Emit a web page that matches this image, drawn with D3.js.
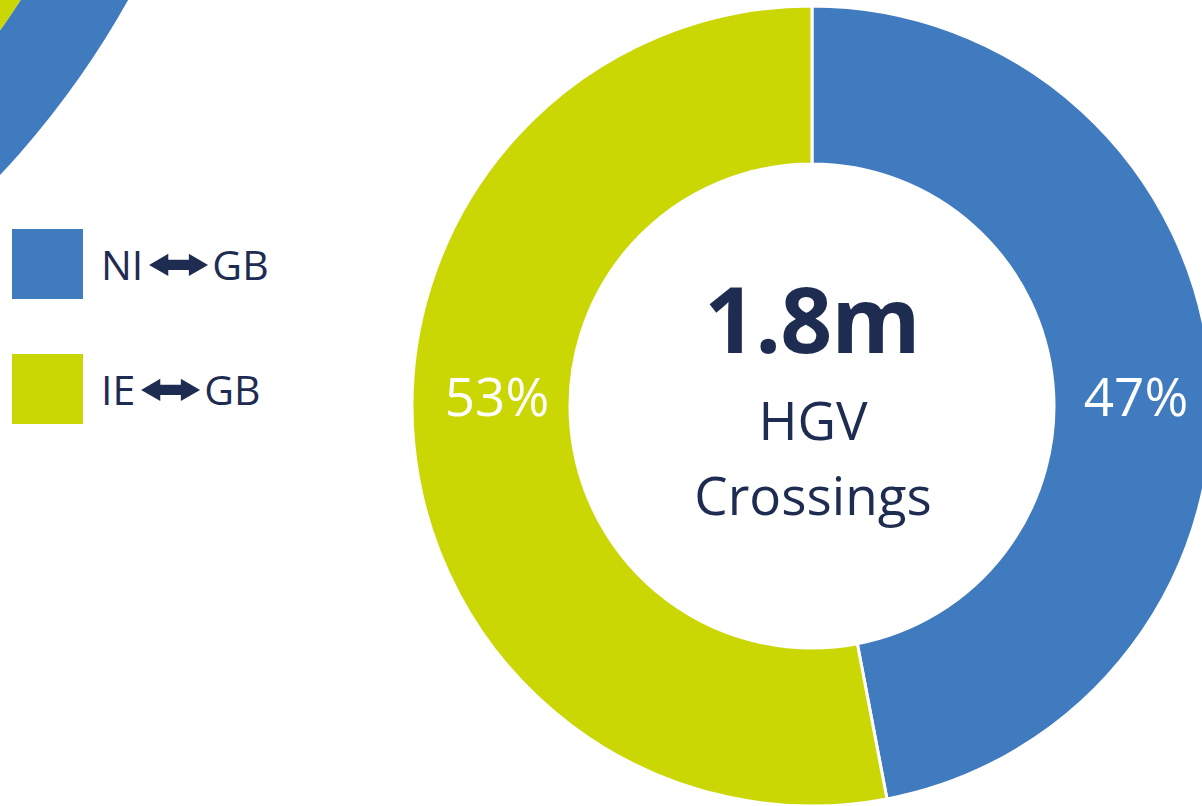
<!DOCTYPE html>
<html>
<head>
<meta charset="utf-8">
<script src="https://cdn.jsdelivr.net/npm/d3@7"></script>
<style>
  html, body { margin: 0; padding: 0; background: #ffffff; }
  svg { display: block; }
  text { font-family: "Open Sans", "Noto Sans", sans-serif; }
</style>
</head>
<body>
<svg id="chart" width="1202" height="806"></svg>
<script>
// ---- data ----
const categories = ["NI", "IE"];
const legendLeft = ["NI", "IE"];
const legendRight = ["GB", "GB"];
const shares = [47, 53];
const shareLabels = ["47%", "53%"];
const seriesColors = ["#417BBF", "#CBD605"];
const totalLabel = "1.8m";
const centerLines = ["HGV", "Crossings"];
// partial neighbouring ring visible in the top-left corner (outer ring, inner ring)
const cornerRingValues = [1, 1];
const cornerRingColors = ["#417BBF", "#CBD605"];

const svg = d3.select("#chart");
const navy = "#1F2C52";

// ---- corner fragment of a neighbouring donut ----
const cornerG = svg.append("g").attr("transform", "translate(-657,-440)");
const cornerRadii = [[808, 900], [560, 808]];
cornerRingValues.forEach((v, i) => {
  const a = d3.arc()
    .innerRadius(cornerRadii[i][0])
    .outerRadius(cornerRadii[i][1])
    .startAngle(100 * Math.PI / 180)
    .endAngle(150 * Math.PI / 180);
  cornerG.append("path").attr("d", a()).attr("fill", cornerRingColors[i]);
});

// ---- main donut ----
const cx = 812, cy = 406;
const outerR = 400, innerR = 242;
const g = svg.append("g").attr("transform", `translate(${cx},${cy})`);

const pie = d3.pie().sort(null).value(d => d)(shares);
const arc = d3.arc().innerRadius(innerR).outerRadius(outerR);

g.selectAll("path.slice")
  .data(pie)
  .join("path")
  .attr("class", "slice")
  .attr("d", arc)
  .attr("fill", (d, i) => seriesColors[i])
  .attr("stroke", "#ffffff")
  .attr("stroke-width", 3)
  .attr("stroke-linejoin", "miter");

// percentage labels placed on the horizontal through the ring middle
const midR = (innerR + outerR) / 2;
const labelX = d3.scaleOrdinal().domain(categories).range([midR + 3, -midR + 6]);
g.selectAll("text.pct")
  .data(pie)
  .join("text")
  .attr("class", "pct")
  .attr("x", (d, i) => labelX(categories[i]))
  .attr("y", 10)
  .attr("text-anchor", "middle")
  .attr("fill", "#ffffff")
  .attr("font-size", 53)
  .text((d, i) => shareLabels[i]);

// centre text
g.append("text")
  .attr("x", 0).attr("y", -53)
  .attr("text-anchor", "middle")
  .attr("fill", navy)
  .attr("font-size", 91)
  .attr("font-weight", 700)
  .attr("letter-spacing", -1)
  .text(totalLabel);

g.selectAll("text.sub")
  .data(centerLines)
  .join("text")
  .attr("class", "sub")
  .attr("x", 1)
  .attr("y", (d, i) => 34 + i * 75)
  .attr("text-anchor", "middle")
  .attr("fill", navy)
  .attr("font-size", 53)
  .text(d => d);

// ---- legend ----
// measure the real glyph bounds of the double arrow
const ctx = document.createElement("canvas").getContext("2d");
const arrowChar = "\u2B0C";
const arrowFont = 60;
ctx.font = `${arrowFont}px "DejaVu Sans"`;
const m = ctx.measureText(arrowChar);
const gLeft = -m.actualBoundingBoxLeft, gRight = m.actualBoundingBoxRight;
const gTop = -m.actualBoundingBoxAscent, gBottom = m.actualBoundingBoxDescent;
const gW = (gRight - gLeft) || 42, gH = (gBottom - gTop) || 28;

const legendY = d3.scalePoint().domain(categories).range([229, 354]);
const leg = svg.append("g");
categories.forEach((c, i) => {
  const y = legendY(c);
  leg.append("rect")
    .attr("x", 12).attr("y", y)
    .attr("width", 71).attr("height", 70)
    .attr("fill", seriesColors[i]);
  const baseY = y + 51;
  const left = leg.append("text")
    .attr("x", 101).attr("y", baseY)
    .attr("fill", navy)
    .attr("font-size", 41)
    .text(legendLeft[i]);
  const lw = left.node().getComputedTextLength();
  const ax = 101 + lw + 5;
  const aw = 60, ah = 23;
  const acy = baseY - 15;
  const sx = aw / gW, sy = ah / gH;
  leg.append("text")
    .attr("transform",
      `translate(${ax},${acy - ah / 2}) scale(${sx},${sy}) translate(${-gLeft},${-gTop})`)
    .attr("x", 0).attr("y", 0)
    .attr("font-family", "DejaVu Sans")
    .attr("font-size", arrowFont)
    .attr("fill", navy)
    .text(arrowChar);
  leg.append("text")
    .attr("x", ax + aw + 4).attr("y", baseY)
    .attr("fill", navy)
    .attr("font-size", 41)
    .text(legendRight[i]);
});
</script>
</body>
</html>
